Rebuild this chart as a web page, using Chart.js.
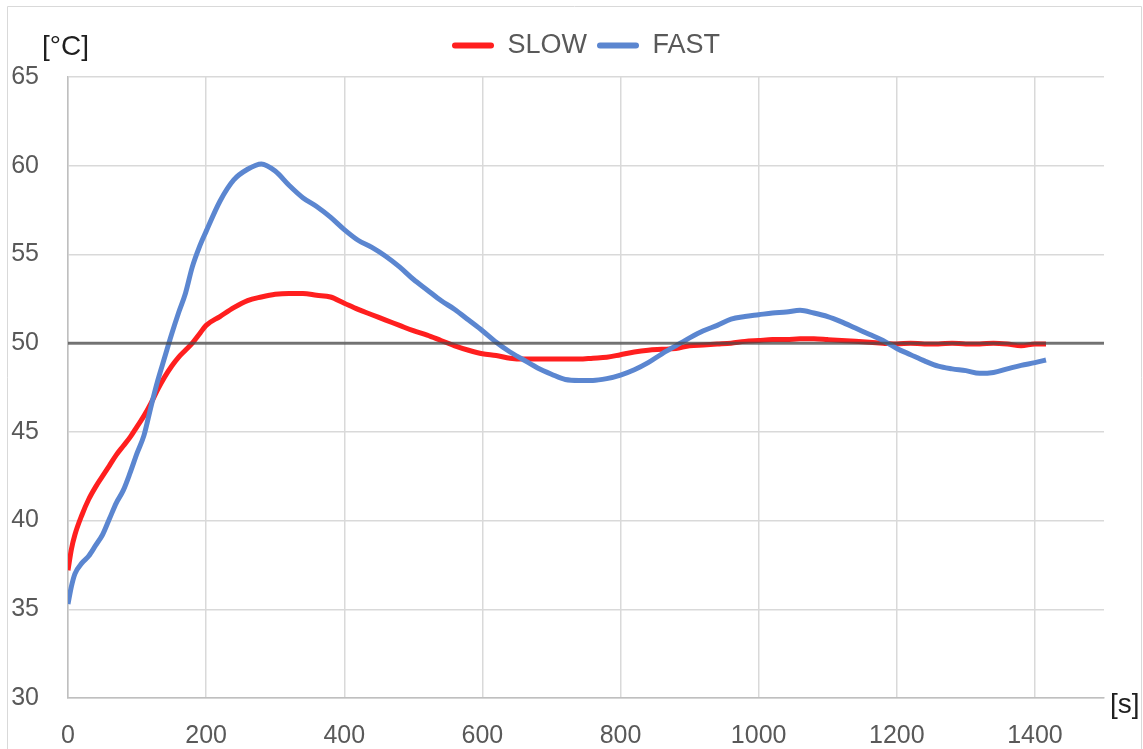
<!DOCTYPE html>
<html>
<head>
<meta charset="utf-8">
<script src="https://cdn.jsdelivr.net/npm/chart.js@4.4.1/dist/chart.umd.min.js"></script>
<style>
  html, body { margin: 0; padding: 0; background: #ffffff; }
  #wrap { width: 1143px; height: 749px; position: relative; }
</style>
</head>
<body>
<div id="wrap"><canvas id="c" width="1143" height="749"></canvas></div>
<script>
// ---- data ----
const TIME = [0, 5, 10, 20, 30, 40, 50, 60, 70, 80, 90, 100, 110, 120, 130, 140, 150, 160, 170, 180, 190, 200,
  220, 240, 260, 280, 300, 320, 340, 360, 380, 400, 420, 440, 460, 480, 500, 520, 540, 560, 580, 600,
  620, 640, 660, 680, 700, 720, 740, 760, 780, 800, 820, 840, 860, 880, 900, 920, 940, 960, 980, 1000,
  1020, 1040, 1060, 1080, 1100, 1120, 1140, 1160, 1180, 1200, 1220, 1240, 1260, 1280, 1300, 1320, 1340, 1360, 1380, 1400,
  1416];

const SLOW = [37.2, 38.4, 39.2, 40.3, 41.2, 41.9, 42.5, 43.1, 43.7, 44.2, 44.7, 45.3, 45.9, 46.6, 47.4, 48.1, 48.7, 49.2, 49.6, 50.0, 50.5, 51.0,
  51.5, 52.0, 52.4, 52.6, 52.75, 52.8, 52.8, 52.7, 52.6, 52.25, 51.9, 51.6, 51.3, 51.0, 50.7, 50.45, 50.15, 49.85, 49.6, 49.4,
  49.3, 49.15, 49.1, 49.1, 49.1, 49.1, 49.1, 49.15, 49.2, 49.35, 49.5, 49.6, 49.65, 49.7, 49.85, 49.9, 49.95, 50.0, 50.1, 50.15,
  50.2, 50.2, 50.25, 50.25, 50.2, 50.15, 50.1, 50.05, 50.0, 49.95, 50.0, 49.95, 49.95, 50.0, 49.95, 49.95, 50.0, 49.95, 49.85, 49.95,
  49.95];

const FAST = [35.3, 36.3, 37.0, 37.6, 38.0, 38.6, 39.2, 40.1, 41.0, 41.7, 42.7, 43.8, 44.8, 46.4, 47.9, 49.2, 50.5, 51.7, 52.8, 54.3, 55.4, 56.3,
  58.0, 59.2, 59.8, 60.1, 59.7, 58.9, 58.2, 57.7, 57.1, 56.4, 55.8, 55.4, 54.9, 54.3, 53.6, 53.0, 52.4, 51.9, 51.3, 50.7,
  50.05, 49.5, 49.05, 48.6, 48.25, 47.95, 47.9, 47.9, 48.0, 48.2, 48.5, 48.9, 49.4, 49.85, 50.3, 50.7, 51.0, 51.35, 51.5, 51.6,
  51.7, 51.75, 51.85, 51.7, 51.5, 51.2, 50.85, 50.5, 50.15, 49.7, 49.35, 49.0, 48.7, 48.55, 48.45, 48.3, 48.35, 48.55, 48.75, 48.9,
  49.05];

const SETPOINT = 50;
const SERIES_NAMES = ['SLOW', 'FAST'];
const X_RANGE = [0, 1500];
const Y_RANGE = [30, 65];
const X_TICKS = [0, 200, 400, 600, 800, 1000, 1200, 1400];
const Y_STEP = 5;
const Y_UNIT = '[°C]';
const X_UNIT = '[s]';

// ---- chart ----
const FONT = "'Liberation Sans', Arial, sans-serif";

const decorPlugin = {
  id: 'decor',
  beforeDraw(chart) {
    const ctx = chart.ctx;
    ctx.save();
    ctx.strokeStyle = '#d9d9d9';
    ctx.lineWidth = 1;
    ctx.beginPath();
    ctx.moveTo(7.5, 749); ctx.lineTo(7.5, 6.5); ctx.lineTo(1141.5, 6.5); ctx.lineTo(1141.5, 749);
    ctx.stroke();
    ctx.restore();
  },
  afterDraw(chart) {
    const ctx = chart.ctx;
    ctx.save();
    ctx.fillStyle = '#1f1f1f';
    ctx.font = '28px ' + FONT;
    ctx.textBaseline = 'alphabetic';
    ctx.textAlign = 'left';
    ctx.fillText(Y_UNIT, 42, 55);
    ctx.fillText(X_UNIT, 1110, 713);
    ctx.restore();
  }
};

new Chart(document.getElementById('c'), {
  type: 'line',
  data: {
    datasets: [
      {
        label: SERIES_NAMES[0],
        data: TIME.map((t, i) => ({ x: t, y: SLOW[i] })),
        borderColor: '#FF1F1F',
        backgroundColor: '#FF1F1F',
        borderWidth: 5,
        pointRadius: 0,
        cubicInterpolationMode: 'monotone',
        order: 2
      },
      {
        label: SERIES_NAMES[1],
        data: TIME.map((t, i) => ({ x: t, y: FAST[i] })),
        borderColor: '#5B86D0',
        backgroundColor: '#5B86D0',
        borderWidth: 5,
        pointRadius: 0,
        cubicInterpolationMode: 'monotone',
        order: 1
      },
      {
        label: 'setpoint',
        data: X_RANGE.map(x => ({ x: x, y: SETPOINT })),
        borderColor: 'rgba(70,70,70,0.72)',
        backgroundColor: 'rgba(70,70,70,0.72)',
        borderWidth: 3,
        pointRadius: 0,
        order: 0
      }
    ]
  },
  options: {
    responsive: false,
    animation: false,
    devicePixelRatio: 1,
    layout: { padding: { top: 22, left: 0, right: 39, bottom: 0 } },
    plugins: {
      tooltip: { enabled: false },
      legend: {
        position: 'top',
        fullSize: false,
        labels: {
          font: { family: FONT, size: 27 },
          color: '#595959',
          boxWidth: 42,
          boxHeight: 6,
          padding: 10,
          useBorderRadius: true,
          borderRadius: 3,
          filter: (item) => item.datasetIndex < 2,
          sort: (a, b) => a.datasetIndex - b.datasetIndex,
          generateLabels(chart) {
            const items = Chart.defaults.plugins.legend.labels.generateLabels(chart);
            items.forEach(it => { it.lineWidth = 0; });
            return items;
          }
        }
      },
      title: {
        display: true,
        text: '',
        weight: 500,
        padding: 0,
        font: { size: 8, lineHeight: 1 }
      }
    },
    scales: {
      x: {
        type: 'linear',
        min: X_RANGE[0],
        max: X_RANGE[1],
        afterBuildTicks(scale) {
          scale.ticks = X_TICKS.map(v => ({ value: v }));
        },
        afterFit(scale) { scale.height = 51; },
        ticks: {
          color: '#595959',
          font: { family: FONT, size: 25 },
          padding: 23,
          maxRotation: 0,
          autoSkip: false,
          callback: (v) => String(v)
        },
        grid: { color: '#d9d9d9', lineWidth: 1.5, drawTicks: false },
        border: { color: '#bfbfbf', width: 1.5 }
      },
      y: {
        min: Y_RANGE[0],
        max: Y_RANGE[1],
        afterFit(scale) { scale.width = 68; },
        ticks: {
          stepSize: Y_STEP,
          color: '#595959',
          font: { family: FONT, size: 25 },
          padding: 29,
          callback: (v) => String(v)
        },
        grid: { color: '#d9d9d9', lineWidth: 1.5, drawTicks: false },
        border: { color: '#bfbfbf', width: 1.5 }
      }
    }
  },
  plugins: [decorPlugin]
});
</script>
</body>
</html>
